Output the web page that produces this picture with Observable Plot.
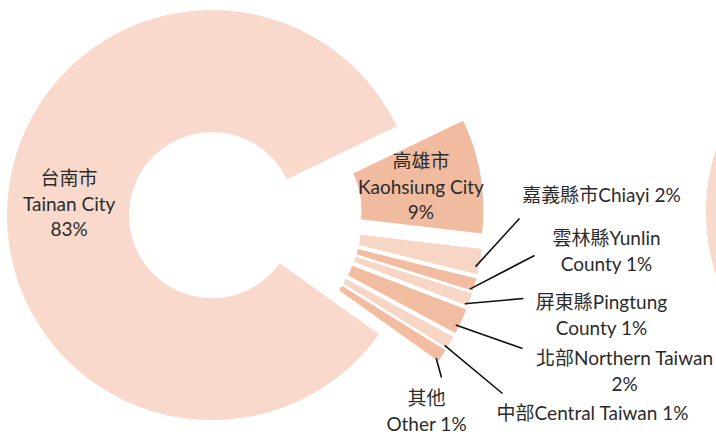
<!DOCTYPE html>
<html><head><meta charset="utf-8">
<script src="https://cdn.jsdelivr.net/npm/d3@7"></script>
<script src="https://cdn.jsdelivr.net/npm/@observablehq/plot@0.6"></script>
<style>
html,body{margin:0;padding:0;background:#fff;overflow:hidden}
#chart svg{display:block}
</style>
</head><body><div id="chart"></div>
<script>
// ---- data ----
const categories = ["台南市\nTainan City", "高雄市\nKaohsiung City", "嘉義縣市Chiayi", "雲林縣Yunlin\nCounty", "屏東縣Pingtung\nCounty", "北部Northern Taiwan\n", "中部Central Taiwan", "其他\nOther"];
const shares = [83, 9, 2, 1, 1, 2, 1, 1];
const nextChartShares = [100]; // edge of the neighbouring chart, cut off at the right

// ---- style / layout ----
const W = 716, H = 434;
const cx = 234, cy = 217, R = 205, r0 = 83;
const startDeg = 35.5;                     // first slice start, clockwise from east
const explode = [22, 45, 45, 45, 45, 45, 45, 45];
const sliceColors = ["#F8D9CB", "#F1BBA0", "#F8D6C6", "#F2BCA1", "#F8D6C6", "#F2BCA1", "#F8D6C6", "#F2BCA1"];
const insideLabel = [true, true, false, false, false, false, false, false];
// outer label: [label x, label y, leader end x, leader end y]
const outerLabelPos = [null, null,
  [601, 193, 519, 218],
  [606, 249, 534, 255],
  [601, 313, 523, 298],
  [624, 369, 522, 348],
  [592, 411, 502, 393],
  [426, 409, 441, 377]];
const nextChart = {cx: 911, cy: 212, color: "#F8DACC"};

// ---- geometry from data ----
const total = d3.sum(shares);
const rad = d => d * Math.PI / 180;
const ringPts = [];
const slices = [];
let a = startDeg;
shares.forEach((v, i) => {
  const span = v / total * 360;
  const a0 = a, a1 = a + span, mid = (a0 + a1) / 2;
  const ox = explode[i] * Math.cos(rad(mid)), oy = explode[i] * Math.sin(rad(mid));
  const n = Math.max(12, Math.ceil(span * 2));
  for (let k = 0; k <= n; k++) {
    const t = rad(a0 + span * k / n);
    ringPts.push({id: i, fill: sliceColors[i],
      x1: cx + ox + r0 * Math.cos(t), y1: cy + oy + r0 * Math.sin(t),
      x2: cx + ox + R * Math.cos(t),  y2: cy + oy + R * Math.sin(t)});
  }
  const pct = Math.round(v / total * 100) + "%";
  const cat = categories[i];
  const sep = insideLabel[i] ? "\n" : (cat.endsWith("\n") ? "" : " ");
  slices.push({i, mid, ox, oy, label: cat + sep + pct});
  a = a1;
});
// neighbouring chart edge
nextChartShares.forEach((v, j) => {
  const n = 360;
  for (let k = 0; k <= n; k++) {
    const t = rad(360 * k / n);
    ringPts.push({id: 100 + j, fill: nextChart.color,
      x1: nextChart.cx + r0 * Math.cos(t), y1: nextChart.cy + r0 * Math.sin(t),
      x2: nextChart.cx + R * Math.cos(t),  y2: nextChart.cy + R * Math.sin(t)});
  }
});

const inside = slices.filter(s => insideLabel[s.i]).map(s => {
  const rm = (R + r0) / 2;
  return {x: cx + s.ox + rm * Math.cos(rad(s.mid)), y: cy + s.oy + rm * Math.sin(rad(s.mid)) - 1, label: s.label};
});
const outside = slices.filter(s => !insideLabel[s.i]).map(s => {
  const p = outerLabelPos[s.i];
  const rl = R - 4, ang = rad(s.mid + 1.5);
  return {x: p[0], y: p[1], label: s.label,
    lx1: cx + s.ox + rl * Math.cos(ang), ly1: cy + s.oy + rl * Math.sin(ang),
    lx2: p[2], ly2: p[3]};
});

const font = "Lato, 'Noto Sans CJK TC', sans-serif";
const chart = Plot.plot({
  width: W, height: H,
  margin: 0,
  style: {fontFamily: font, background: "#fff", overflow: "hidden"},
  x: {domain: [0, W], range: [0, W], axis: null},
  y: {domain: [0, H], range: [0, H], axis: null},
  marks: [
    Plot.area(ringPts, {x1: "x1", y1: "y1", x2: "x2", y2: "y2", z: "id", fill: "fill", clip: true}),
    Plot.link(outside, {x1: "lx1", y1: "ly1", x2: "lx2", y2: "ly2", stroke: "#111", strokeWidth: 1.6}),
    Plot.text(inside, {x: "x", y: "y", text: "label", fontSize: 19, lineHeight: 1.35, fill: "#2b2b2b", textAnchor: "middle", lineAnchor: "middle"}),
    Plot.text(outside, {x: "x", y: "y", text: "label", fontSize: 19, lineHeight: 1.35, fill: "#2b2b2b", textAnchor: "middle", lineAnchor: "middle"})
  ]
});
document.getElementById("chart").appendChild(chart);
</script>
</body></html>
